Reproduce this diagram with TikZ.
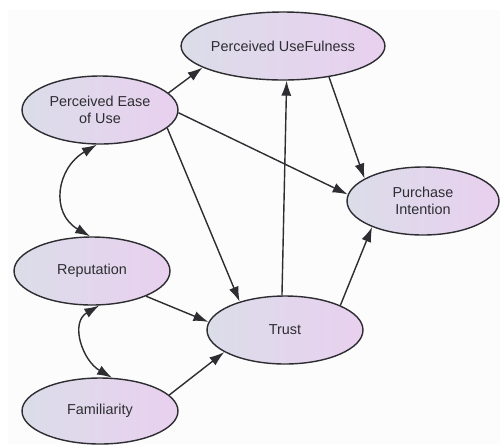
\documentclass[tikz,border=0pt]{standalone}
\usepackage{fontspec}
\setmainfont{Liberation Sans}
\usetikzlibrary{arrows.meta,shapes.geometric}
\definecolor{nodeleft}{RGB}{219,221,233}
\definecolor{noderight}{RGB}{233,208,239}
\definecolor{edgegray}{RGB}{45,45,50}
\definecolor{textgray}{RGB}{45,45,50}
\definecolor{bggray}{RGB}{252,252,252}

\begin{document}
\begin{tikzpicture}[
        x=0.02cm, y=-0.02cm,
        factor/.style={ellipse, draw=edgegray, line width=0.8pt, minimum width=3.12cm, minimum height=1.36cm, inner sep=0pt, align=center, left color=nodeleft, right color=noderight, text=textgray, font=\fontsize{8.2}{9.6}\selectfont},
        arrow/.style={-{Latex[length=3mm,width=2mm]}, line width=0.8pt, edgegray},
        biarrow/.style={{Latex[length=3mm,width=2mm]}-{Latex[length=3mm,width=2mm]}, line width=0.8pt, edgegray}
    ]
        \useasboundingbox (0,0) rectangle (500,444);
        \fill[white] (0,0) rectangle (500,444);
        \fill[bggray] (8,10) rectangle (500,444);

        % Nodes
        \node[factor] (peu) at (100,110) {Perceived Ease\\of Use};
        \node[factor, minimum width=3.16cm] (pu) at (283,46) {Perceived UseFulness};
        \node[factor, minimum width=3.04cm] (pi) at (423,201) {Purchase\\Intention};
        \node[factor] (rep) at (92,271) {Reputation};
        \node[factor] (trust) at (285,330) {Trust};
        \node[factor, minimum height=1.32cm] (fam) at (100,411) {Familiarity};

        % Arrows
        \draw[arrow] (peu.14) -- (pu.195);
        \draw[arrow] (peu.-2) -- (pi.175);
        \draw[arrow] (peu.-15) -- (trust.148);
        \draw[arrow] (pu.-34) -- (pi.159);
        \draw[arrow] (trust.95) -- (pu.276);
        \draw[arrow] (trust.24) -- (pi.207);
        \draw[arrow] (rep.-25) -- (trust.174);
        \draw[arrow] (fam.13) -- (trust.200);

        % Correlations
        \draw[biarrow] (peu.265) to[out=210, in=150, looseness=1.3] (rep.93);
        \draw[biarrow] (rep.282) to[out=210, in=150, looseness=1.2] (fam.70);

    \end{tikzpicture}
\end{document}
